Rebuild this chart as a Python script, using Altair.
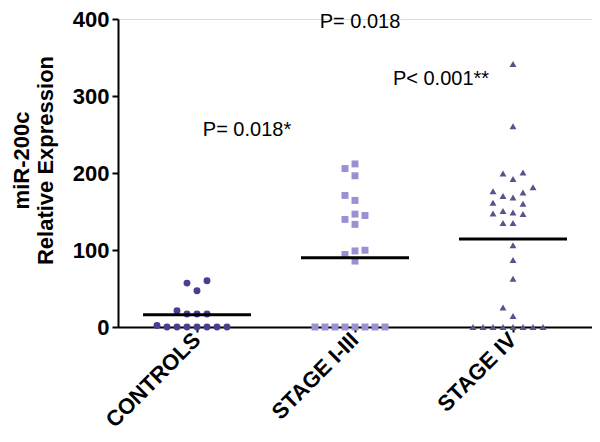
import altair as alt
import pandas as pd

categories = ["CONTROLS", "STAGE I-III", "STAGE IV"]
controls = [60, 57, 47, 21, 17, 17, 17, 0, 0, 0, 0, 0, 0, 0, 2]
stage_1_3 = [211.8, 205.8, 196.4, 170.9, 164.4, 146.6, 144.8, 139.7, 133.3,
             99.7, 98.8, 94.2, 85.6, 0, 0, 0, 0, 0, 0, 0, 0]
stage_4 = [341.6, 260.7, 200.6, 199.4, 192.1, 176.4, 181.5, 174.7, 170.0,
           168.3, 161.4, 160.1, 147.4, 150.8, 146.6, 148.6, 135.1, 135.1,
           106.1, 86.9, 62.6, 25.2, 14.4, 0, 0, 0, 0, 0, 0, 0, 0]
y_ticks = [0, 100, 200, 300, 400]
annotations = ["P= 0.018*", "P= 0.018", "P< 0.001**"]
annotation_y = [255.6, 396, 322]
colors = ["#4b3d8f", "#9a90d2", "#5a538b"]
shapes = ["circle", "square", "triangle-up"]


def swarm(vals, thr=13.2):
    """Simple beeswarm: assign each value to a horizontal slot."""
    placed = []
    out = {}
    order = sorted(range(len(vals)), key=lambda i: vals[i])
    seq = [0]
    for k in range(1, 20):
        seq += [-k, k]
    for i in order:
        v = vals[i]
        for k in seq:
            if all(not (s == k and abs(v - pv) < thr) for pv, s in placed):
                placed.append((v, k))
                out[i] = k
                break
    return [out[i] for i in range(len(vals))]


rows = []
for cat, vals in zip(categories, [controls, stage_1_3, stage_4]):
    for v, s in zip(vals, swarm(vals)):
        rows.append({"group": cat, "value": v, "slot": s})
df = pd.DataFrame(rows)

W, H = 474, 308
step = W / 3
FONT = "Liberation Sans"

x_enc = alt.X("group:N", sort=categories,
              scale=alt.Scale(domain=categories, paddingInner=0, paddingOuter=0),
              axis=alt.Axis(title=None, labelAngle=-45, labelAlign="right",
                            labelBaseline="middle", labelFontSize=22,
                            labelFontWeight="bold", labelFont=FONT,
                            labelColor="black", labelPadding=4,
                            tickSize=5, tickColor="black", tickWidth=2,
                            domainColor="black", domainWidth=2))
y_enc = alt.Y("value:Q",
              scale=alt.Scale(domain=[0, 400], nice=False),
              axis=alt.Axis(values=y_ticks, grid=False,
                            title=["miR-200c", "Relative Expression"],
                            titleFontSize=22, titleFont=FONT,
                            titleFontWeight="bold", titleColor="black",
                            titleLineHeight=24,
                            titleX=-85, titleY=141,
                            labelFontSize=22, labelFontWeight="bold",
                            labelFont=FONT, labelColor="black",
                            labelPadding=3, tickSize=6, tickColor="black",
                            tickWidth=2, domainColor="black", domainWidth=2))

points = alt.Chart(df).mark_point(filled=True, opacity=1, size=48).encode(
    x=x_enc,
    xOffset=alt.XOffset("slot:Q", scale=alt.Scale(domain=[-step / 20, step / 20],
                                                 range=[0, step])),
    y=y_enc,
    color=alt.Color("group:N", scale=alt.Scale(domain=categories, range=colors),
                    legend=None),
    shape=alt.Shape("group:N", scale=alt.Scale(domain=categories, range=shapes),
                    legend=None),
)

means = alt.Chart(df).mark_tick(color="black", size=108, thickness=3,
                                orient="horizontal").encode(
    x=alt.X("group:N", sort=categories),
    y=alt.Y("mean(value):Q"),
)

ann_df = pd.DataFrame({"text": annotations, "group": categories, "value": annotation_y})
ann_dx = [50, 5, -72]
texts = [
    alt.Chart(ann_df.iloc[[i]]).mark_text(fontSize=20, font=FONT, color="black",
                                           dx=ann_dx[i], baseline="middle",
                                           align="center").encode(
        x=alt.X("group:N", sort=categories),
        y=alt.Y("value:Q"),
        text="text:N",
    )
    for i in range(3)
]

chart = alt.layer(points, means, *texts).properties(
    width=W, height=H,
    autosize=alt.AutoSizeParams(type="none"),
    padding={"left": 110, "top": 11, "right": 0, "bottom": 107},
).configure_view(stroke=None).configure(background="white")

chart.save("out.html", embed_options={"renderer": "svg", "actions": False})
